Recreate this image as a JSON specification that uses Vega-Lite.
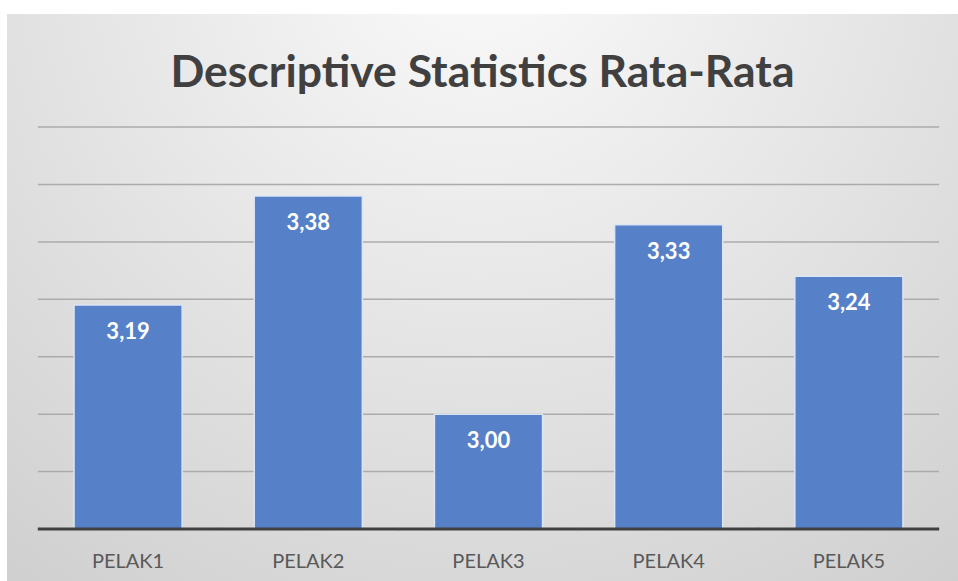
{
  "$schema": "https://vega.github.io/schema/vega-lite/v6.json",
  "width": 951,
  "height": 567,
  "autosize": {"type": "none"},
  "padding": {"left": 7, "top": 14, "right": 0, "bottom": 0},
  "background": "#ffffff",
  "config": {
    "locale": {"number": {"decimal": ",", "thousands": ".", "grouping": [3], "currency": ["", ""]}}
  },
  "view": {
    "stroke": null,
    "fill": {
      "gradient": "radial",
      "x1": 0.5, "y1": 0.12, "r1": 0,
      "x2": 0.5, "y2": 0.12, "r2": 0.85,
      "stops": [
        {"offset": 0, "color": "#fbfbfb"},
        {"offset": 1, "color": "#cfcfcf"}
      ]
    }
  },
  "title": {
    "text": "Descriptive Statistics Rata-Rata",
    "font": "Lato",
    "fontSize": 44.5,
    "fontWeight": "bold",
    "color": "#404040",
    "offset": -104,
    "baseline": "middle",
    "frame": "group",
    "anchor": "middle"
  },
  "datasets": {
    "bars": [
      {"cat": "PELAK1", "value": 3.19},
      {"cat": "PELAK2", "value": 3.38},
      {"cat": "PELAK3", "value": 3.00},
      {"cat": "PELAK4", "value": 3.33},
      {"cat": "PELAK5", "value": 3.24}
    ],
    "grid": [
      {"v": 2.9, "cat": ["PELAK1", "PELAK2", "PELAK3", "PELAK4", "PELAK5"]},
      {"v": 3.0, "cat": ["PELAK1", "PELAK2", "PELAK3", "PELAK4", "PELAK5"]},
      {"v": 3.1, "cat": ["PELAK1", "PELAK2", "PELAK3", "PELAK4", "PELAK5"]},
      {"v": 3.2, "cat": ["PELAK1", "PELAK2", "PELAK3", "PELAK4", "PELAK5"]},
      {"v": 3.3, "cat": ["PELAK1", "PELAK2", "PELAK3", "PELAK4", "PELAK5"]},
      {"v": 3.4, "cat": ["PELAK1", "PELAK2", "PELAK3", "PELAK4", "PELAK5"]},
      {"v": 3.5, "cat": ["PELAK1", "PELAK2", "PELAK3", "PELAK4", "PELAK5"]}
    ],
    "base": [
      {"v": 2.8, "cat": ["PELAK1", "PELAK2", "PELAK3", "PELAK4", "PELAK5"]}
    ]
  },
  "data": {"name": "bars"},
  "layer": [
    {
      "data": {"name": "grid"},
      "transform": [{"flatten": ["cat"]}],
      "mark": {"type": "tick", "color": "#ababab", "thickness": 1.5, "size": 180.4, "opacity": 1},
      "encoding": {
        "x": {
          "field": "cat",
          "type": "nominal",
          "scale": {"paddingInner": 0.4, "paddingOuter": 0.3388, "align": 0.549},
          "axis": {
            "title": null,
            "domain": false,
            "ticks": false,
            "tickSize": 0,
            "labelFont": "Lato",
            "labelFontSize": 20,
            "labelColor": "#595959",
            "labelPadding": 22,
            "labelAngle": 0,
            "offset": -52
          }
        },
        "y": {
          "field": "v",
          "type": "quantitative",
          "scale": {"domain": [2.7095, 3.6968], "nice": false, "zero": false},
          "axis": null
        }
      }
    },
    {
      "mark": {"type": "bar", "color": "#5681c9", "stroke": "#dbe5f4", "strokeWidth": 1.5},
      "encoding": {
        "x": {"field": "cat", "type": "nominal"},
        "y": {"field": "value", "type": "quantitative"},
        "y2": {"datum": 2.8}
      }
    },
    {
      "data": {"name": "base"},
      "transform": [{"flatten": ["cat"]}],
      "mark": {"type": "tick", "color": "#404040", "thickness": 3, "size": 180.6, "opacity": 1},
      "encoding": {
        "x": {"field": "cat", "type": "nominal"},
        "y": {"field": "v", "type": "quantitative"}
      }
    },
    {
      "mark": {"type": "text", "font": "Lato", "fontSize": 22, "fontWeight": "bold", "color": "#ffffff", "baseline": "middle", "dy": 27},
      "encoding": {
        "x": {"field": "cat", "type": "nominal"},
        "y": {"field": "value", "type": "quantitative"},
        "text": {"field": "value", "type": "quantitative", "format": ".2f"}
      }
    }
  ]
}
